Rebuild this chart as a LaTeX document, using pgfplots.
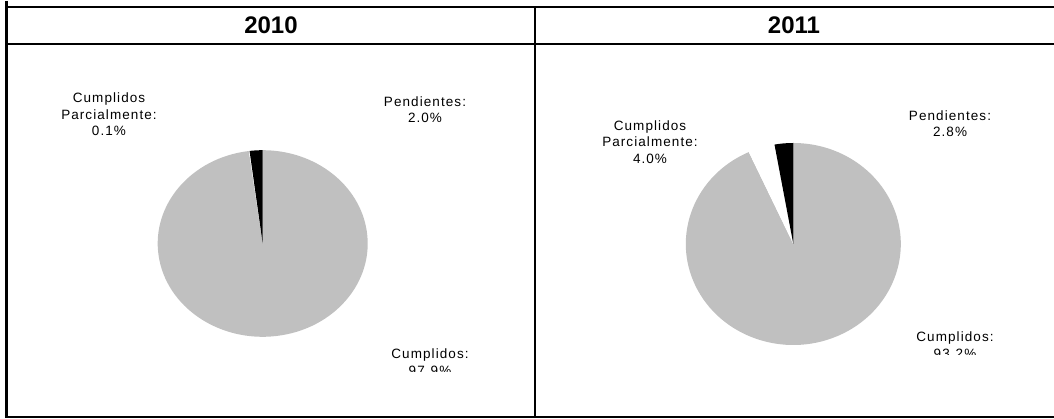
\documentclass[border=0pt]{standalone}
\usepackage{fontspec}
\setmainfont{Liberation Sans}
\newfontfamily\lbl[LetterSpace=8]{Liberation Sans}
\usepackage{pgfplots}
\usepackage{pgfplotstable}
\pgfplotsset{compat=1.18}
\definecolor{piegray}{HTML}{C0C0C0}

% shares in percent, counterclockwise from 12 o'clock
\pgfplotstableread{
label value
Pendientes 2.0
Parcial 0.1
Cumplidos 97.9
}\tabA
\pgfplotstableread{
label value
Pendientes 2.8
Parcial 4.0
Cumplidos 93.2
}\tabB

\newcommand{\angles}[2]{% table, prefix
  \pgfplotstablegetelem{0}{value}\of{#1}\let\vA\pgfplotsretval
  \pgfplotstablegetelem{1}{value}\of{#1}\let\vB\pgfplotsretval
  \pgfmathsetmacro\tmpA{90+3.6*\vA}%
  \pgfmathsetmacro\tmpB{\tmpA+3.6*\vB}%
  \expandafter\let\csname #2A\endcsname\tmpA
  \expandafter\let\csname #2B\endcsname\tmpB
}
\angles{\tabA}{pa}
\angles{\tabB}{pb}

% start, end, colour, cx, cy, rx, ry
\newcommand{\slice}[7]{%
  \fill[#3] (axis cs:#4,#5) -- (axis cs:{#4+#6*cos(#1)},{#5+#7*sin(#1)})
    arc[start angle=#1, end angle=#2, x radius=#6pt, y radius=#7pt] -- cycle;
}

\begin{document}
\begin{tikzpicture}[x=1pt,y=1pt]
\path[use as bounding box] (0,0) rectangle (1054,419);
\begin{axis}[at={(0,0)}, anchor=south west, scale only axis,
  width=1054pt, height=419pt, hide axis, clip=false,
  xmin=0, xmax=1054, ymin=0, ymax=419]
% 2010
\slice{\paB}{450}{piegray}{262.7}{175.5}{105}{93.3}
\slice{\paA}{\paB}{white}{262.7}{175.5}{105}{93.3}
\slice{90}{\paA}{black}{262.7}{175.5}{105}{93.3}
% 2011
\slice{\pbB}{450}{piegray}{793.3}{175}{107.5}{101}
\slice{\pbA}{\pbB}{white}{793.3}{175}{107.5}{101}
\slice{90}{\pbA}{black}{793.3}{175}{107.5}{101}
\end{axis}

% table frame
\draw[line width=2.5pt] (6.5,418) -- (6.5,1);
\draw[line width=2.5pt] (5.5,412) -- (1054,412);
\draw[line width=2.5pt] (5.5,375) -- (1054,375);
\draw[line width=2.5pt] (535,412) -- (535,1);
\draw[line width=2.5pt] (5.5,2) -- (1054,2);

\node[font=\bfseries\fontsize{24}{24}\selectfont] at (271,393.5) {2010};
\node[font=\bfseries\fontsize{24}{24}\selectfont] at (794,393.5) {2011};

\tikzset{lab/.style={align=center, inner sep=0pt,
  font=\lbl\fontsize{13.5}{16.5}\selectfont}}
\node[lab] at (109,304.5) {Cumplidos\\Parcialmente:\\0.1\%};
\node[lab] at (425,309.5) {Pendientes:\\2.0\%};
\begin{scope}
\clip (300,47) rectangle (530,100);
\node[lab] at (430,57) {Cumplidos:\\97.9\%};
\end{scope}

\node[lab] at (650,277) {Cumplidos\\Parcialmente:\\4.0\%};
\node[lab] at (950,295.5) {Pendientes:\\2.8\%};
\begin{scope}
\clip (850,64) rectangle (1050,110);
\node[lab] at (955,74) {Cumplidos:\\93.2\%};
\end{scope}
\end{tikzpicture}
\end{document}
